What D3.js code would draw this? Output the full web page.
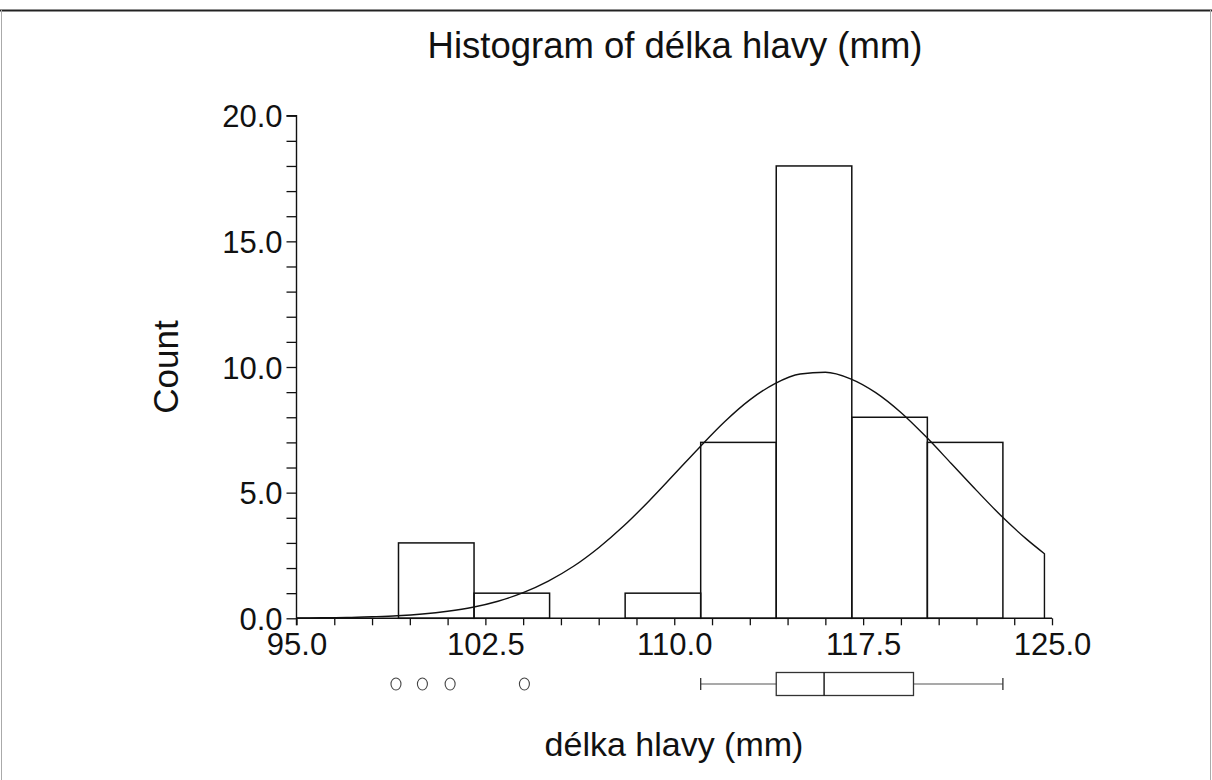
<!DOCTYPE html>
<html>
<head>
<meta charset="utf-8">
<script src="https://cdn.jsdelivr.net/npm/d3@7"></script>
<style>
  html, body { margin: 0; padding: 0; background: #fff; }
  svg { display: block; }
  text { font-family: "Liberation Sans", Arial, sans-serif; fill: #111; }
</style>
</head>
<body>
<svg id="chart" width="1212" height="780"></svg>
<script>
// Histogram of head length with fitted normal curve and box plot
const binEdges = [99.05, 102.05, 105.05, 108.05, 111.05, 114.05, 117.05, 120.05, 123.05];
const binCounts = [3, 1, 0, 1, 7, 18, 8, 7];

// Fitted normal density (counts scale), tabulated along the x axis
const curveX = [95, 96, 97, 98, 99, 100, 101, 102, 103, 104, 105, 106, 107, 108, 109, 110,
                111, 112, 113, 114, 115, 116, 117, 118, 119, 120, 121, 122, 123, 124, 124.7];
const curveY = [0.01, 0.02, 0.03, 0.06, 0.10, 0.17, 0.28, 0.44, 0.68, 1.02, 1.48, 2.07, 2.81, 3.68, 4.67, 5.73,
                6.80, 7.82, 8.69, 9.34, 9.72, 9.79, 9.53, 8.98, 8.19, 7.22, 6.16, 5.09, 4.06, 3.14, 2.57];

// Box plot summary and outliers
const boxStats = { whiskerLow: 111.05, q1: 114.05, median: 115.95, q3: 119.5, whiskerHigh: 123.05 };
const outliers = [98.95, 100.0, 101.1, 104.05];

const xTicks = [95.0, 102.5, 110.0, 117.5, 125.0];
const yTicks = [0, 5, 10, 15, 20];

const titleText = "Histogram of délka hlavy (mm)";
const xTitle = "délka hlavy (mm)";
const yTitle = "Count";

const svg = d3.select("#chart");

// frame
svg.append("line").attr("x1", 0).attr("x2", 1212).attr("y1", 10.5).attr("y2", 10.5)
  .attr("stroke", "#222").attr("stroke-width", 2);
svg.append("line").attr("x1", 1.5).attr("x2", 1.5).attr("y1", 10).attr("y2", 780)
  .attr("stroke", "#aaa").attr("stroke-width", 1);
svg.append("line").attr("x1", 1210.5).attr("x2", 1210.5).attr("y1", 10).attr("y2", 780)
  .attr("stroke", "#aaa").attr("stroke-width", 1);

const x = d3.scaleLinear().domain([95, 125]).range([296.5, 1052]);
const y = d3.scaleLinear().domain([0, 20]).range([618.3, 115.7]);

const g = svg.append("g");

// bars
const bars = binCounts.map((c, i) => ({ x0: binEdges[i], x1: binEdges[i + 1], count: c }))
  .filter(d => d.count > 0);
g.selectAll("rect.bar").data(bars).join("rect")
  .attr("class", "bar")
  .attr("x", d => x(d.x0))
  .attr("y", d => y(d.count))
  .attr("width", d => x(d.x1) - x(d.x0))
  .attr("height", d => y(0) - y(d.count))
  .attr("fill", "none")
  .attr("stroke", "#111")
  .attr("stroke-width", 1.5);

// fitted curve, closed down to the axis at its right end
const pts = curveX.map((v, i) => [v, curveY[i]]);
const line = d3.line().x(d => x(d[0])).y(d => y(d[1])).curve(d3.curveMonotoneX);
const last = pts[pts.length - 1];
g.append("path")
  .attr("d", line(pts) + `L${x(last[0])},${y(0)}`)
  .attr("fill", "none")
  .attr("stroke", "#111")
  .attr("stroke-width", 1.4);

// y axis
const yAxis = d3.axisLeft(y).tickValues(d3.range(0, 20.5, 1)).tickSize(10)
  .tickFormat(d => yTicks.includes(d) ? d3.format(".1f")(d) : "");
const ya = svg.append("g").attr("transform", `translate(${x(95)},0)`).call(yAxis);
ya.select(".domain").attr("d", `M-10,${y(20)}H0V${y(0) + 7}`).attr("stroke", "#111").attr("stroke-width", 1.4);
ya.selectAll(".tick line").attr("stroke", "#111").attr("stroke-width", 1.3);
ya.selectAll(".tick text")
  .attr("x", -14).attr("dy", "0.36em")
  .style("font-size", "31px").style("font-family", "'Liberation Sans', Arial, sans-serif").attr("fill", "#111");

// x axis
const xAxis = d3.axisBottom(x).tickValues(d3.range(0, 21).map(i => 95 + i * 1.5)).tickSize(7)
  .tickFormat(d => xTicks.some(t => Math.abs(t - d) < 1e-6) ? d3.format(".1f")(d) : "");
const xa = svg.append("g").attr("transform", `translate(0,${y(0)})`).call(xAxis);
xa.select(".domain").attr("d", `M${x(95)},0H${x(125)}`).attr("stroke", "#111").attr("stroke-width", 1.4);
xa.selectAll(".tick line").attr("stroke", "#111").attr("stroke-width", 1.3);
xa.selectAll(".tick text")
  .attr("y", 15).attr("dy", "0.71em")
  .style("font-size", "31px").style("font-family", "'Liberation Sans', Arial, sans-serif").attr("fill", "#111");

// box plot
const by = 684, bh = 23;
const bp = svg.append("g").attr("stroke", "#333").attr("fill", "none");
bp.append("line").attr("x1", x(boxStats.whiskerLow)).attr("x2", x(boxStats.q1)).attr("y1", by).attr("y2", by)
  .attr("stroke-width", 1.1).attr("stroke", "#555");
bp.append("line").attr("x1", x(boxStats.q3)).attr("x2", x(boxStats.whiskerHigh)).attr("y1", by).attr("y2", by)
  .attr("stroke-width", 1.1).attr("stroke", "#555");
bp.append("line").attr("x1", x(boxStats.whiskerLow)).attr("x2", x(boxStats.whiskerLow)).attr("y1", by - 6).attr("y2", by + 6)
  .attr("stroke-width", 1.3);
bp.append("line").attr("x1", x(boxStats.whiskerHigh)).attr("x2", x(boxStats.whiskerHigh)).attr("y1", by - 6).attr("y2", by + 6)
  .attr("stroke-width", 1.3);
bp.append("rect").attr("x", x(boxStats.q1)).attr("y", by - bh / 2)
  .attr("width", x(boxStats.q3) - x(boxStats.q1)).attr("height", bh).attr("stroke-width", 1.3);
bp.append("line").attr("x1", x(boxStats.median)).attr("x2", x(boxStats.median)).attr("y1", by - bh / 2).attr("y2", by + bh / 2)
  .attr("stroke-width", 1.4).attr("stroke", "#111");
bp.selectAll("ellipse").data(outliers).join("ellipse")
  .attr("cx", d => x(d)).attr("cy", by).attr("rx", 5).attr("ry", 6)
  .attr("stroke-width", 1.1).attr("stroke", "#444");

// titles
svg.append("text").attr("x", 675).attr("y", 58).attr("text-anchor", "middle")
  .style("font-size", "36.5px").text(titleText);
svg.append("text").attr("x", 674).attr("y", 756).attr("text-anchor", "middle")
  .style("font-size", "34px").text(xTitle);
svg.append("text").attr("transform", "translate(178,367) rotate(-90)").attr("text-anchor", "middle")
  .style("font-size", "35px").text(yTitle);
</script>
</body>
</html>
